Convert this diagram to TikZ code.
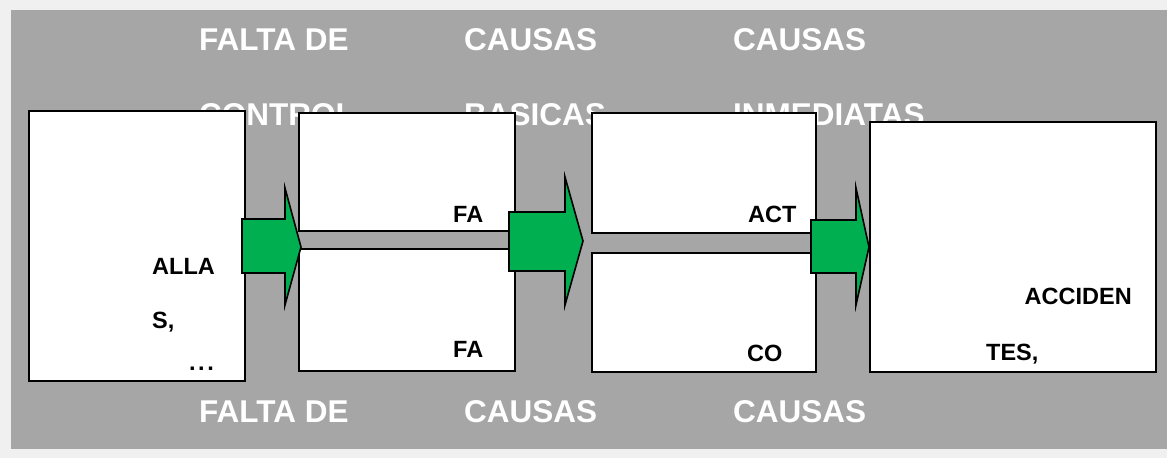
\documentclass[tikz,border=0pt]{standalone}
\usepackage{fontspec}
\setmainfont{Liberation Sans}
\definecolor{panelgrey}{HTML}{A6A6A6}
\definecolor{framegrey}{HTML}{F0F0F0}
\definecolor{flowgreen}{HTML}{00B050}
\tikzset{
  heading/.style={anchor=base west, inner sep=0pt, text=white,
    font=\fontsize{31.5}{36}\selectfont\bfseries},
  label/.style={anchor=base west, inner sep=0pt, text=black,
    font=\fontsize{23.5}{27}\selectfont\bfseries},
  box/.style={draw=black, fill=white, line width=1.6pt, anchor=north west,
    inner sep=0pt, outer sep=0pt},
  blockarrow/.style={draw=black, fill=flowgreen, line width=1.6pt, line join=miter}
}
\begin{document}
\begin{tikzpicture}[x=1pt, y=-1pt]
  % page frame and grey panel
  \fill[framegrey] (0,0) rectangle (1167,458);
  \useasboundingbox (0,0) rectangle (1167,458);
  \fill[panelgrey] (11,10) rectangle (1167,449);

  % column headings (top)
  \node[heading] (h1a) at (199,50.6) {FALTA DE};
  \node[heading] (h2a) at (464,50.6) {CAUSAS};
  \node[heading] (h3a) at (733,50.6) {CAUSAS};
  \node[heading] (h1b) at (199,125.6) {CONTROL};
  \node[heading] (h2b) at (464,125.6) {BASICAS};
  \node[heading] (h3b) at (733,125.6) {INMEDIATAS};

  % column headings (bottom)
  \node[heading] (f1) at (199,422.6) {FALTA DE};
  \node[heading] (f2) at (464,422.6) {CAUSAS};
  \node[heading] (f3) at (733,422.6) {CAUSAS};

  % boxes
  \node[box, minimum width=216pt, minimum height=270pt] (b1)  at (29,111) {};
  \node[box, minimum width=216pt, minimum height=118pt] (b2a) at (299,113) {};
  \node[box, minimum width=216pt, minimum height=122pt] (b2b) at (299,249) {};
  \node[box, minimum width=224pt, minimum height=120pt] (b3a) at (592,113) {};
  \node[box, minimum width=224pt, minimum height=119pt] (b3b) at (592,253) {};
  \node[box, minimum width=286pt, minimum height=250pt] (b4)  at (870,122) {};

  % box texts
  \node[label] (t1) at (152,274) {ALLA};
  \node[label] (t2) at (152,328) {S,};
  \node[label] (t3) at (189,370) {.\kern2.5pt.\kern2.5pt.};
  \node[label] (t4) at (453,222) {FA};
  \node[label] (t5) at (453,357) {FA};
  \node[label] (t6) at (748,222) {ACT};
  \node[label] (t7) at (747,361) {CO};
  \node[label] (t8) at (1024.5,304) {ACCIDEN};
  \node[label] (t9) at (986,360) {TES,};

  % block arrows between the columns
  \draw[blockarrow] (242,219) -- (285,219) -- (285,188) -- (301,247)
    -- (285,305) -- (285,273) -- (242,273) -- cycle;
  \draw[blockarrow] (509,212) -- (565,212) -- (565,177) -- (583,241)
    -- (565,305) -- (565,271) -- (509,271) -- cycle;
  \draw[blockarrow] (811,220) -- (856,220) -- (856,188) -- (869,247)
    -- (856,305) -- (856,273) -- (811,273) -- cycle;
\end{tikzpicture}
\end{document}
